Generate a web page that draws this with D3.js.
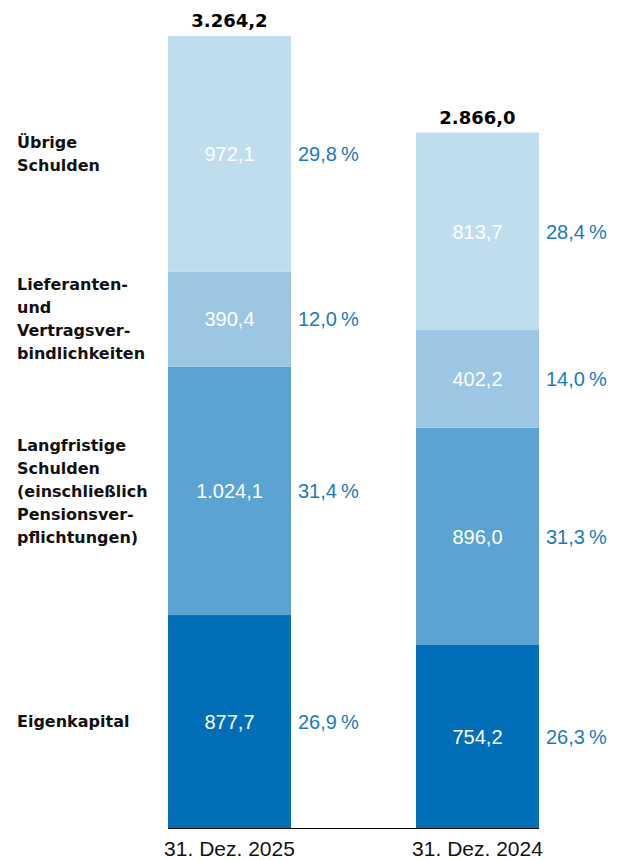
<!DOCTYPE html>
<html>
<head>
  <meta charset="utf-8">
  <script src="https://cdn.jsdelivr.net/npm/d3@7"></script>
  <style>
    html, body { margin: 0; padding: 0; background: #fff; }
    text { font-family: "Liberation Sans", Arial, sans-serif; }
    .bold { font-family: "DejaVu Sans", sans-serif; font-weight: bold; }
  </style>
</head>
<body>
<script>
  // data
  var periods = ["31. Dez. 2025", "31. Dez. 2024"];
  var segments = ["Eigenkapital", "Langfristige Schulden", "Lieferanten- und Vertragsverbindlichkeiten", "Übrige Schulden"];
  var segmentLines = [
    ["Eigenkapital"],
    ["Langfristige", "Schulden", "(einschließlich", "Pensionsver-", "pflichtungen)"],
    ["Lieferanten-", "und", "Vertragsver-", "bindlichkeiten"],
    ["Übrige", "Schulden"]
  ];
  var values2025 = [877.7, 1024.1, 390.4, 972.1];
  var values2024 = [754.2, 896.0, 402.2, 813.7];
  var shares2025 = [26.9, 31.4, 12.0, 29.8];
  var shares2024 = [26.3, 31.3, 14.0, 28.4];
  var totals = [3264.2, 2866.0];
  var colors = ["#006fb7", "#5ba3d3", "#9bc7e4", "#c0ddee"];

  var width = 618, height = 860;

  var de = d3.formatLocale({decimal: ",", thousands: ".", grouping: [3], currency: ["", " €"]});
  var fmt = de.format(",.1f");

  var svg = d3.select("body").append("svg")
      .attr("width", width)
      .attr("height", height);

  var x = d3.scaleBand()
      .domain(periods)
      .range([168, 539])
      .paddingInner(0.504)
      .paddingOuter(0);

  var y = d3.scaleLinear()
      .domain([0, d3.max(totals)])
      .range([828, 36]);

  // build stacked rows
  var rows = periods.map(function (p, i) {
    var vals = i === 0 ? values2025 : values2024;
    var shares = i === 0 ? shares2025 : shares2024;
    var row = {period: p, total: totals[i]};
    segments.forEach(function (s, j) { row[s] = vals[j]; row[s + "_share"] = shares[j]; });
    return row;
  });

  var stack = d3.stack().keys(segments)(rows);

  var layer = svg.selectAll("g.layer")
    .data(stack)
    .enter().append("g")
      .attr("class", "layer")
      .attr("fill", function (d, i) { return colors[i]; });

  layer.selectAll("rect")
    .data(function (d) { return d; })
    .enter().append("rect")
      .attr("x", function (d) { return x(d.data.period); })
      .attr("width", x.bandwidth())
      .attr("y", function (d) { return y(d[1]); })
      .attr("height", function (d) { return y(d[0]) - y(d[1]); });

  // values inside bars and shares beside them
  layer.each(function (s) {
    var g = d3.select(this);
    s.forEach(function (d) {
      var cy = (y(d[0]) + y(d[1])) / 2;
      g.append("text")
        .attr("x", x(d.data.period) + x.bandwidth() / 2)
        .attr("y", cy)
        .attr("dy", "0.36em")
        .attr("text-anchor", "middle")
        .attr("fill", "#fff")
        .style("font-size", "20px")
        .text(fmt(d.data[s.key]));
      g.append("text")
        .attr("x", x(d.data.period) + x.bandwidth() + 7)
        .attr("y", cy)
        .attr("dy", "0.36em")
        .attr("fill", "#1a7bc0")
        .style("font-size", "20px")
        .text(fmt(d.data[s.key + "_share"]) + "\u2009%");
    });
  });

  // totals on top
  svg.selectAll("text.total")
    .data(rows)
    .enter().append("text")
      .attr("class", "total bold")
      .attr("x", function (d) { return x(d.period) + x.bandwidth() / 2; })
      .attr("y", function (d) { return y(d.total) - 9; })
      .attr("text-anchor", "middle")
      .style("font-size", "18px")
      .attr("fill", "#000")
      .text(function (d) { return fmt(d.total); });

  // category labels on the left, centred on the first bar's segments
  stack.forEach(function (s, i) {
    var d = s[0];
    var cy = (y(d[0]) + y(d[1])) / 2;
    var lines = segmentLines[i];
    var lh = 23;
    var t = svg.append("text")
      .attr("class", "bold")
      .attr("x", 17)
      .attr("y", cy - (lines.length - 1) * lh / 2)
      .style("font-size", "16px")
      .attr("fill", "#111");
    lines.forEach(function (l, k) {
      t.append("tspan")
        .attr("x", 17)
        .attr("dy", k === 0 ? "0.36em" : lh)
        .text(l);
    });
  });

  // baseline
  svg.append("line")
    .attr("x1", x.range()[0])
    .attr("x2", x.range()[1])
    .attr("y1", y(0) + 0.5)
    .attr("y2", y(0) + 0.5)
    .attr("stroke", "#000")
    .attr("stroke-width", 1);

  // period labels
  svg.selectAll("text.period")
    .data(periods)
    .enter().append("text")
      .attr("class", "period")
      .attr("x", function (d) { return x(d) + x.bandwidth() / 2; })
      .attr("y", 856)
      .attr("text-anchor", "middle")
      .style("font-size", "21px")
      .attr("fill", "#111")
      .text(function (d) { return d; });
</script>
</body>
</html>
